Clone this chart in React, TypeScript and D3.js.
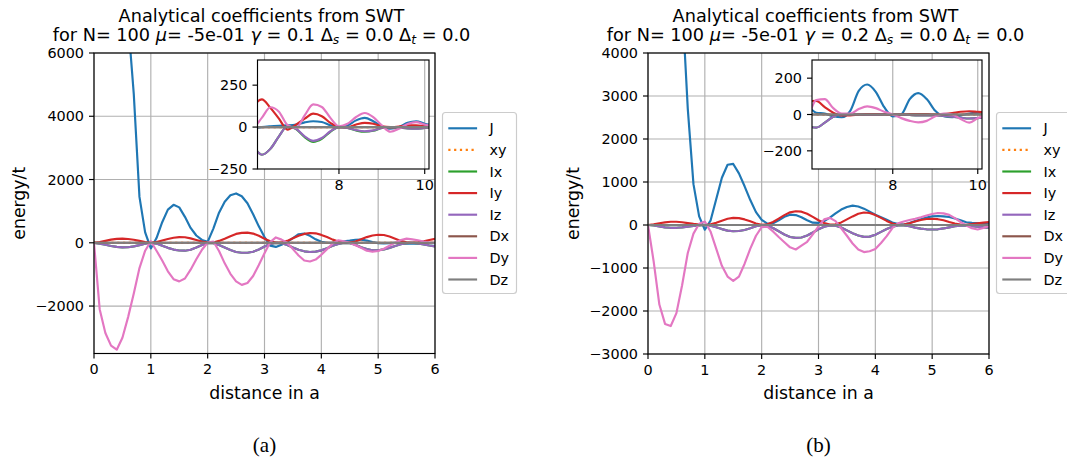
import React from "react";
import * as d3 from "d3";

// Sample positions (distance in units of a)
const distance = [
  0, 0.1, 0.2, 0.3, 0.4, 0.5, 0.6, 0.7, 0.8, 0.9,
  1, 1.1, 1.2, 1.3, 1.4, 1.5, 1.6, 1.7, 1.8, 1.9,
  2, 2.1, 2.2, 2.3, 2.4, 2.5, 2.6, 2.7, 2.8, 2.9,
  3, 3.1, 3.2, 3.3, 3.4, 3.5, 3.6, 3.7, 3.8, 3.9,
  4, 4.1, 4.2, 4.3, 4.4, 4.5, 4.6, 4.7, 4.8, 4.9,
  5, 5.1, 5.2, 5.3, 5.4, 5.5, 5.6, 5.7, 5.8, 5.9,
  6,
  6.2, 6.4, 6.6, 6.8, 7, 7.2, 7.4, 7.6, 7.8, 8,
  8.2, 8.4, 8.6, 8.8, 9, 9.2, 9.4, 9.6, 9.8, 10,
  10.2,
];

const seriesNames = ["J", "xy", "Ix", "Iy", "Iz", "Dx", "Dy", "Dz"];
const seriesColors = ["#1f77b4", "#ff7f0e", "#2ca02c", "#d62728", "#9467bd", "#8c564b", "#e377c2", "#7f7f7f"];
const seriesDashes = ["", "2.2 3.6", "", "", "", "", "", ""];

// couplings that stay at zero for every distance
const flat = [
  0, 0, 0, 0, 0, 0, 0, 0, 0, 0,
  0, 0, 0, 0, 0, 0, 0, 0, 0, 0,
  0, 0, 0, 0, 0, 0, 0, 0, 0, 0,
  0, 0, 0, 0, 0, 0, 0, 0, 0, 0,
  0, 0, 0, 0, 0, 0, 0, 0, 0, 0,
  0, 0, 0, 0, 0, 0, 0, 0, 0, 0,
  0,
  0, 0, 0, 0, 0, 0, 0, 0, 0, 0,
  0, 0, 0, 0, 0, 0, 0, 0, 0, 0,
  0,
];

// ---- gamma = 0.1 ----
const jA = [
  40000, 32000, 25000, 19000, 14000, 10000, 7000, 4700, 1450, 330,
  -180, 150, 650, 1050, 1200, 1120, 820, 470, 230, 90,
  30, 450, 950, 1300, 1500, 1560, 1470, 1250, 900, 520,
  180, -90, -130, -60, 30, 150, 270, 290, 220, 110,
  30, 0, 10, 30, 50, 70, 95, 100, 70, 20,
  -10, -20, -10, 0, -20, -30, -30, -25, -20, -15,
  -10,
  0, 5, 8, 10, 15, 28, 35, 30, 10, 0,
  10, 40, 55, 35, 5, -10, 0, 25, 35, 20,
  10,
];
const iyA = [
  0, 20, 60, 100, 125, 130, 120, 95, 60, 25,
  0, 20, 70, 120, 160, 180, 175, 140, 90, 40,
  5, 10, 60, 130, 210, 280, 315, 320, 290, 220,
  130, 50, 5, 10, 60, 140, 220, 280, 310, 300,
  250, 180, 100, 40, 5, 5, 40, 110, 180, 230,
  255, 245, 200, 130, 60, 15, 0, 15, 50, 90,
  126,
  165, 115, 50, -15, 15, 50, 80, 65, 25, 0,
  0, 15, 25, 20, 5, 0, 3, 10, 10, 5,
  3,
];
const izA = [
  0, -25, -60, -100, -130, -145, -140, -115, -75, -30,
  0, -25, -90, -160, -215, -245, -250, -220, -150, -70,
  -5, -15, -70, -150, -230, -290, -315, -315, -285, -210,
  -120, -40, -5, -15, -70, -150, -220, -270, -290, -280,
  -240, -170, -95, -35, -5, -10, -60, -140, -200, -235,
  -235, -210, -160, -100, -45, -10, 0, -20, -50, -85,
  -115,
  -165, -130, -55, 5, -10, -55, -82, -65, -25, 0,
  -5, -18, -25, -20, -5, 0, -3, -8, -10, -5,
  -3,
];
const ixA = [
  0, -25, -60, -100, -130, -145, -140, -115, -75, -30,
  0, -25, -90, -160, -215, -245, -250, -220, -150, -70,
  -5, -15, -70, -150, -230, -290, -315, -315, -285, -210,
  -120, -40, -5, -15, -70, -150, -220, -270, -290, -280,
  -240, -170, -95, -35, -5, -10, -60, -140, -200, -235,
  -235, -210, -160, -100, -45, -10, 0, -20, -50, -85,
  -115,
  -165, -130, -55, 5, -12, -60, -88, -70, -28, 0,
  -5, -20, -28, -22, -5, 0, -3, -8, -10, -5,
  -3,
];
const dyA = [
  0, -2100, -2850, -3250, -3380, -3000, -2350, -1600, -800, -250,
  50, -250, -560, -900, -1150, -1220, -1130, -850, -520, -220,
  10, 40, -260, -650, -980, -1220, -1330, -1270, -1050, -700,
  -330, 20, 170, 100, 0, -200, -400, -560, -590, -530,
  -380, -200, -20, 80, 50, 0, -80, -160, -250, -285,
  -260, -190, -90, 0, 90, 130, 110, 80, 40, 10,
  0,
  55, 118, 92, 12, -5, 70, 135, 120, 55, 5,
  20, 60, 84, 60, 10, -28, -10, 18, 30, 15,
  5,
];

// ---- gamma = 0.2 ----
const jB = [
  30000, 24000, 19000, 14500, 11000, 8000, 5200, 2700, 950, 200,
  -110, 100, 600, 1100, 1400, 1420, 1200, 900, 580, 300,
  120, 30, 40, 110, 190, 240, 230, 180, 110, 55,
  50, 90, 170, 270, 360, 420, 450, 430, 380, 310,
  240, 180, 120, 60, 20, 10, 45, 90, 135, 175,
  200, 210, 200, 185, 150, 110, 65, 50, 45, 42,
  40,
  10, 5, -10, -15, 20, 130, 165, 125, 40, -10,
  0, 85, 118, 85, 20, -10, -15, -5, 5, 10,
  10,
];
const iyB = [
  0, 15, 40, 60, 75, 75, 65, 45, 25, 8,
  0, 15, 50, 100, 145, 165, 160, 130, 85, 35,
  5, 15, 70, 150, 230, 295, 320, 310, 260, 190,
  110, 45, 10, 15, 60, 130, 200, 260, 290, 280,
  230, 165, 95, 35, 5, 10, 40, 80, 115, 140,
  145, 135, 110, 70, 35, 10, 5, 20, 40, 55,
  68,
  75, 40, 10, -5, -5, 0, 2, 3, 2, 0,
  0, 2, 3, 2, 0, 2, 8, 15, 18, 15,
  12,
];
const izB = [
  0, -12, -35, -55, -65, -65, -55, -40, -22, -8,
  0, -15, -50, -95, -130, -145, -140, -115, -75, -30,
  -5, -15, -70, -145, -220, -280, -300, -290, -245, -175,
  -100, -40, -8, -15, -60, -125, -190, -245, -275, -270,
  -225, -160, -95, -40, -10, -10, -30, -60, -85, -100,
  -105, -100, -80, -55, -30, -15, -15, -25, -40, -55,
  -65,
  -72, -45, -12, 0, 0, 0, -2, -2, 0, 0,
  0, -3, -5, -5, -5, -8, -12, -18, -22, -20,
  -15,
];
const ixB = [
  0, -12, -35, -55, -65, -65, -55, -40, -22, -8,
  0, -15, -50, -95, -130, -145, -140, -115, -75, -30,
  -5, -15, -70, -145, -220, -280, -300, -290, -245, -175,
  -100, -40, -8, -15, -60, -125, -190, -245, -275, -270,
  -225, -160, -95, -40, -10, -10, -30, -60, -85, -100,
  -105, -100, -80, -55, -30, -15, -15, -25, -40, -55,
  -65,
  -72, -45, -12, 0, 0, 0, -2, -2, 0, 0,
  0, -3, -5, -5, -5, -8, -12, -18, -22, -20,
  -15,
];
const dyB = [
  0, -850, -1850, -2300, -2350, -2050, -1400, -650, -200, 30,
  80, -150, -550, -950, -1200, -1300, -1200, -900, -550, -250,
  -50, -40, -150, -280, -400, -520, -570, -480, -390, -220,
  -30, 130, 165, 90, -80, -250, -430, -570, -630, -610,
  -560, -420, -260, -70, 40, 80, 115, 145, 180, 220,
  255, 280, 270, 235, 160, 70, -10, -75, -105, -70,
  -20,
  80, 85, 35, 5, 5, 30, 45, 35, 15, 0,
  -20, -35, -43, -35, -10, 5, 0, -25, -45, -20,
  0,
];

const mainXTicks = [0, 1, 2, 3, 4, 5, 6];
const yTicksA = [-2000, 0, 2000, 4000, 6000];
const yTicksB = [-3000, -2000, -1000, 0, 1000, 2000, 3000, 4000];
const insetXTicks = [8, 10];
const insetYTicksA = [-250, 0, 250];
const insetYTicksB = [-200, 0, 200];
const gammaLabels = ["0.1", "0.2"];
const captions = ["(a)", "(b)"];

const FONT = "DejaVu Sans";
const TICK_FS = 14.4;
const LABEL_FS = 17.3;
const TITLE_FS = 17.7;
const LW = 2.16;
const GRID = "#b0b0b0";
const INSET_START = 58; // index of the first sample that can reach the inset window

const fmt = (v: number) => (v < 0 ? "\u2212" + Math.abs(v) : String(v));

type Box = { left: number; right: number; top: number; bottom: number };

function Panel(props: {
  id: string;
  box: Box;
  yDomain: [number, number];
  yTicks: number[];
  inset: Box;
  insetY: [number, number];
  insetYTicks: number[];
  series: number[][];
  gamma: string;
  caption: string;
}) {
  const { id, box, yDomain, yTicks, inset, insetY, insetYTicks, series, gamma, caption } = props;
  const x = d3.scaleLinear().domain([0, 6]).range([box.left, box.right]);
  const y = d3.scaleLinear().domain(yDomain).range([box.bottom, box.top]);
  const ix = d3.scaleLinear().domain([6.1, 10.1]).range([inset.left, inset.right]);
  const iy = d3.scaleLinear().domain(insetY).range([inset.bottom, inset.top]);

  const mainLine = d3
    .line<number>()
    .x((_, i) => x(distance[i]))
    .y((v) => y(v));
  const insetLine = d3
    .line<number>()
    .x((_, i) => ix(distance[i + INSET_START]))
    .y((v) => iy(v))
    .curve(d3.curveMonotoneX);

  const cx = (box.left + box.right) / 2;
  const titleX = cx - 3;
  const cy = (box.top + box.bottom) / 2;
  const subFs = TITLE_FS * 0.7;

  // legend geometry
  const lgX = box.right + 7.5;
  const lgY = 112.5;
  const lgRow = 21.6;
  const lgW = 74;
  const lgH = 181;

  return (
    <g fontFamily={FONT}>
      <defs>
        <clipPath id={`clip-${id}`}>
          <rect x={box.left} y={box.top} width={box.right - box.left} height={box.bottom - box.top} />
        </clipPath>
        <clipPath id={`clip-in-${id}`}>
          <rect x={inset.left} y={inset.top} width={inset.right - inset.left} height={inset.bottom - inset.top} />
        </clipPath>
      </defs>

      {/* title */}
      <text x={titleX} y={22} textAnchor="middle" fontSize={TITLE_FS} fill="#000">
        Analytical coefficients from SWT
      </text>
      <text x={titleX} y={41} textAnchor="middle" fontSize={TITLE_FS} fill="#000">
        <tspan>{"for N= 100 "}</tspan>
        <tspan fontStyle="italic">μ</tspan>
        <tspan>{"= -5e-01 "}</tspan>
        <tspan fontStyle="italic">γ</tspan>
        <tspan>{` = ${gamma} Δ`}</tspan>
        <tspan fontStyle="italic" fontSize={subFs} dy={3}>s</tspan>
        <tspan dy={-3}>{" = 0.0 Δ"}</tspan>
        <tspan fontStyle="italic" fontSize={subFs} dy={3}>t</tspan>
        <tspan dy={-3}>{" = 0.0"}</tspan>
      </text>

      {/* grid */}
      {mainXTicks.map((t) => (
        <line key={`gx${t}`} x1={x(t)} x2={x(t)} y1={box.top} y2={box.bottom} stroke={GRID} strokeWidth={1.15} />
      ))}
      {yTicks.map((t) => (
        <line key={`gy${t}`} x1={box.left} x2={box.right} y1={y(t)} y2={y(t)} stroke={GRID} strokeWidth={1.15} />
      ))}

      {/* curves */}
      <g clipPath={`url(#clip-${id})`}>
        {series.map((vals, k) => (
          <path
            key={seriesNames[k]}
            d={mainLine(vals.slice(0, 61)) || ""}
            fill="none"
            stroke={seriesColors[k]}
            strokeWidth={LW}
            strokeDasharray={seriesDashes[k] || undefined}
            strokeLinejoin="round"
          />
        ))}
      </g>

      {/* frame */}
      <rect x={box.left} y={box.top} width={box.right - box.left} height={box.bottom - box.top} fill="none" stroke="#000" strokeWidth={1.15} />

      {/* ticks */}
      {mainXTicks.map((t) => (
        <g key={`tx${t}`}>
          <line x1={x(t)} x2={x(t)} y1={box.bottom} y2={box.bottom + 5} stroke="#000" strokeWidth={1.15} />
          <text x={x(t)} y={box.bottom + 20.5} textAnchor="middle" fontSize={TICK_FS}>
            {fmt(t)}
          </text>
        </g>
      ))}
      {yTicks.map((t) => (
        <g key={`ty${t}`}>
          <line x1={box.left - 5} x2={box.left} y1={y(t)} y2={y(t)} stroke="#000" strokeWidth={1.15} />
          <text x={box.left - 10} y={y(t)} dy="0.36em" textAnchor="end" fontSize={TICK_FS}>
            {fmt(t)}
          </text>
        </g>
      ))}

      {/* axis labels */}
      <text x={cx} y={box.bottom + 45} textAnchor="middle" fontSize={LABEL_FS}>
        distance in a
      </text>
      <text
        transform={`translate(${box.left - 75},${cy}) rotate(-90)`}
        textAnchor="middle"
        dy="0.36em"
        fontSize={LABEL_FS}
      >
        energy/t
      </text>

      {/* inset */}
      <rect x={inset.left} y={inset.top} width={inset.right - inset.left} height={inset.bottom - inset.top} fill="#fff" />
      {insetXTicks.map((t) => (
        <line key={`igx${t}`} x1={ix(t)} x2={ix(t)} y1={inset.top} y2={inset.bottom} stroke={GRID} strokeWidth={1.15} />
      ))}
      <g clipPath={`url(#clip-in-${id})`}>
        {series.map((vals, k) => (
          <path
            key={`in${seriesNames[k]}`}
            d={insetLine(vals.slice(INSET_START)) || ""}
            fill="none"
            stroke={seriesColors[k]}
            strokeWidth={LW}
            strokeDasharray={seriesDashes[k] || undefined}
            strokeLinejoin="round"
          />
        ))}
      </g>
      <rect x={inset.left} y={inset.top} width={inset.right - inset.left} height={inset.bottom - inset.top} fill="none" stroke="#000" strokeWidth={1.15} />
      {insetXTicks.map((t) => (
        <g key={`itx${t}`}>
          <line x1={ix(t)} x2={ix(t)} y1={inset.bottom} y2={inset.bottom + 5} stroke="#000" strokeWidth={1.15} />
          <text x={ix(t)} y={inset.bottom + 20.5} textAnchor="middle" fontSize={TICK_FS}>
            {fmt(t)}
          </text>
        </g>
      ))}
      {insetYTicks.map((t) => (
        <g key={`ity${t}`}>
          <line x1={inset.left - 5} x2={inset.left} y1={iy(t)} y2={iy(t)} stroke="#000" strokeWidth={1.15} />
          <text x={inset.left - 10} y={iy(t)} dy="0.36em" textAnchor="end" fontSize={TICK_FS}>
            {fmt(t)}
          </text>
        </g>
      ))}

      {/* legend */}
      <rect x={lgX} y={lgY} width={lgW} height={lgH} rx={3} fill="#fff" fillOpacity={0.8} stroke="#cccccc" strokeWidth={1.15} />
      {seriesNames.map((name, k) => {
        const ly = lgY + 15.8 + k * lgRow;
        return (
          <g key={`lg${name}`}>
            <line
              x1={lgX + 5.8}
              x2={lgX + 34.6}
              y1={ly}
              y2={ly}
              stroke={seriesColors[k]}
              strokeWidth={LW}
              strokeDasharray={seriesDashes[k] || undefined}
            />
            <text x={lgX + 47} y={ly} dy="0.36em" fontSize={TICK_FS}>
              {name}
            </text>
          </g>
        );
      })}

      {/* caption */}
      <text x={cx} y={452} textAnchor="middle" fontSize={21} fontFamily="Liberation Serif">
        {caption}
      </text>
    </g>
  );
}

export default function App() {
  return (
    <svg
      width={1067}
      height={462}
      viewBox="0 0 1067 462"
      style={{ position: "absolute", left: 0, top: 0, background: "#fff" }}
    >
      <rect width={1067} height={462} fill="#fff" />
      <Panel
        id="a"
        box={{ left: 94, right: 435, top: 53, bottom: 353.5 }}
        yDomain={[-3500, 6000]}
        yTicks={yTicksA}
        inset={{ left: 257.5, right: 429, top: 60, bottom: 169 }}
        insetY={[-250, 400]}
        insetYTicks={insetYTicksA}
        series={[jA, flat, ixA, iyA, izA, flat, dyA, flat]}
        gamma={gammaLabels[0]}
        caption={captions[0]}
      />
      <Panel
        id="b"
        box={{ left: 648, right: 989, top: 53, bottom: 354 }}
        yDomain={[-3000, 4000]}
        yTicks={yTicksB}
        inset={{ left: 812, right: 982, top: 60, bottom: 169 }}
        insetY={[-300, 300]}
        insetYTicks={insetYTicksB}
        series={[jB, flat, ixB, iyB, izB, flat, dyB, flat]}
        gamma={gammaLabels[1]}
        caption={captions[1]}
      />
    </svg>
  );
}
